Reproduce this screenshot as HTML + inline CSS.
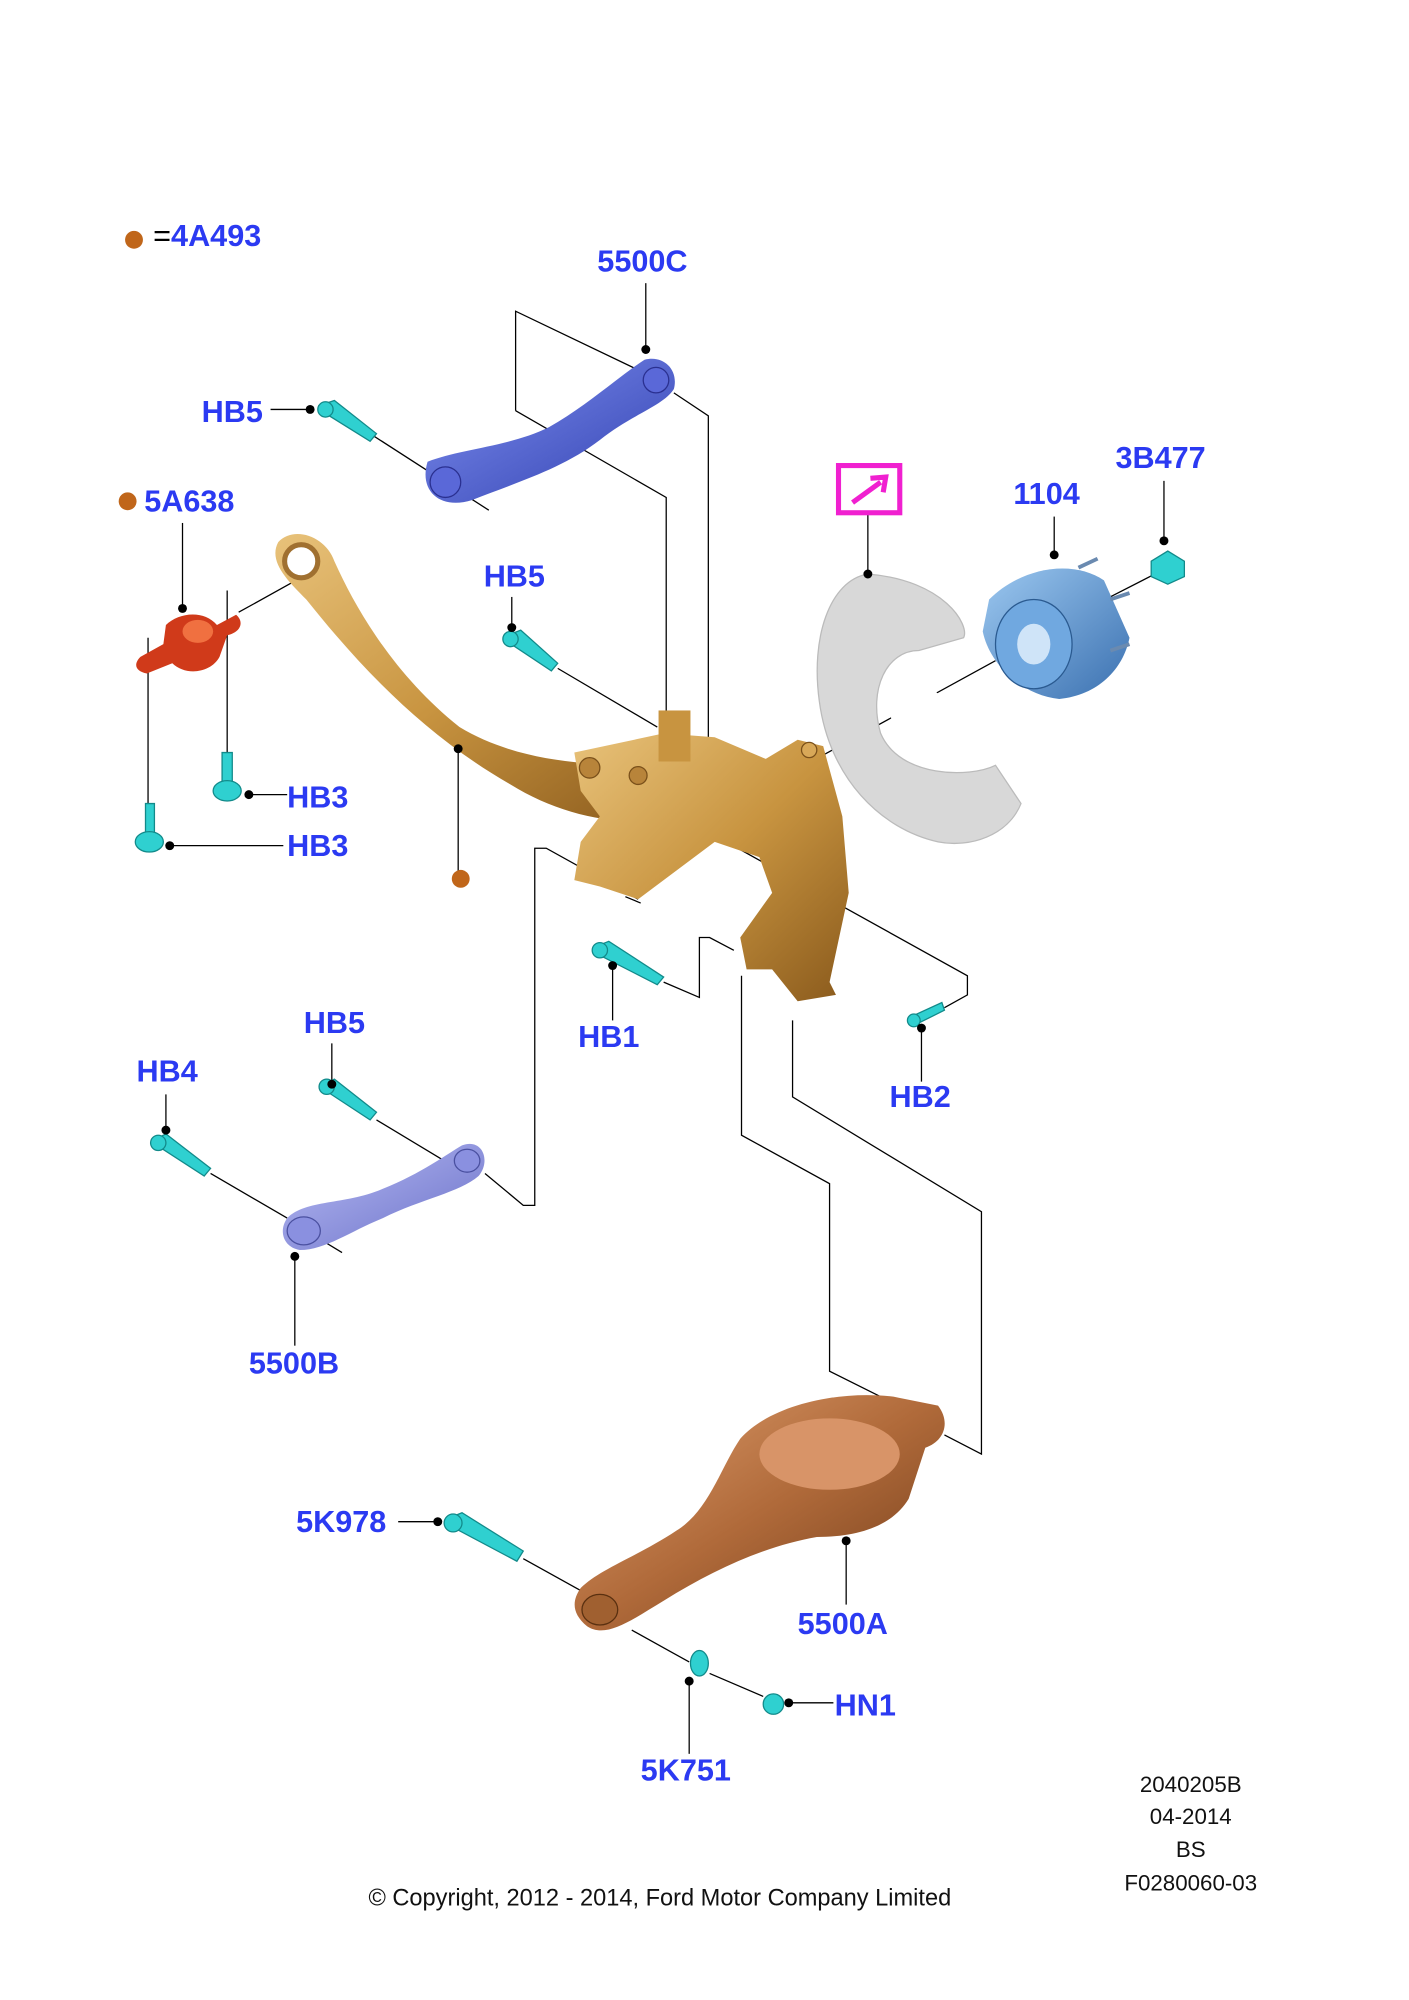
<!DOCTYPE html>
<html><head><meta charset="utf-8"><style>
html,body{margin:0;padding:0;background:#fff}
svg{display:block}
.l{font-family:"Liberation Sans",sans-serif;font-weight:bold;font-size:24px;fill:#2b3af2}
.t{font-family:"Liberation Sans",sans-serif;font-size:17.5px;fill:#111}
.ln{stroke:#000;stroke-width:1;fill:none}
</style></head><body>
<svg width="1409" height="2000" viewBox="0 0 1104 1568" preserveAspectRatio="none" xmlns="http://www.w3.org/2000/svg">
<defs>
<linearGradient id="gold" x1="0" y1="0" x2="1" y2="1"><stop offset="0" stop-color="#e8c27a"/><stop offset=".5" stop-color="#c89440"/><stop offset="1" stop-color="#8a5a1c"/></linearGradient>
<linearGradient id="bronze" x1="0" y1="0" x2="1" y2="1"><stop offset="0" stop-color="#e0a070"/><stop offset=".5" stop-color="#b06a3a"/><stop offset="1" stop-color="#6e3a18"/></linearGradient>
<linearGradient id="blue" x1="0" y1="0" x2="1" y2="1"><stop offset="0" stop-color="#8090f0"/><stop offset="1" stop-color="#3040b0"/></linearGradient>
<linearGradient id="lblue" x1="0" y1="0" x2="1" y2="1"><stop offset="0" stop-color="#b8bcf4"/><stop offset="1" stop-color="#6a70c8"/></linearGradient>
<linearGradient id="hub" x1="0" y1="0" x2="1" y2="1"><stop offset="0" stop-color="#9cc8f0"/><stop offset="1" stop-color="#3a70b0"/></linearGradient>
</defs>
<g class="ln">
<polyline points="404,322 404,244 500,290"/>
<polyline points="404,322 522,390 522,565"/>
<polyline points="528,308 555,326 555,580"/>
<line x1="290" y1="340" x2="383" y2="400"/>
<line x1="437" y1="524" x2="515" y2="570"/>
<line x1="187" y1="480" x2="232" y2="455"/>
<line x1="178" y1="463" x2="178" y2="590"/>
<line x1="116" y1="500" x2="116" y2="635"/>
<polyline points="380,920 410,945 419,945 419,665 428,665 500,705"/>
<polyline points="520,770 548,782 548,735 556,735 575,745"/>
<polyline points="581,765 581,890 650,928 650,1075 690,1095"/>
<polyline points="621,800 621,860 769,950 769,1140 740,1125"/>
<polyline points="560,655 758,765 758,780 740,790"/>
<line x1="645" y1="592" x2="780" y2="518"/>
<line x1="866" y1="470" x2="905" y2="450"/>
<line x1="165" y1="920" x2="225" y2="955"/>
<line x1="295" y1="878" x2="348" y2="910"/>
<line x1="240" y1="965" x2="268" y2="982"/>
<line x1="410" y1="1222" x2="455" y2="1247"/>
<line x1="495" y1="1278" x2="540" y2="1303"/>
<line x1="556" y1="1312" x2="598" y2="1330"/>
<line x1="490" y1="703" x2="502" y2="708"/>
</g>
<g class="ln">
<line x1="506" y1="222" x2="506" y2="274"/>
<line x1="212" y1="321" x2="243" y2="321"/>
<line x1="143" y1="410" x2="143" y2="477"/>
<line x1="401" y1="468" x2="401" y2="492"/>
<line x1="826" y1="405" x2="826" y2="435"/>
<line x1="912" y1="377" x2="912" y2="424"/>
<line x1="680" y1="402" x2="680" y2="450"/>
<line x1="195" y1="623" x2="225" y2="623"/>
<line x1="133" y1="663" x2="222" y2="663"/>
<line x1="359" y1="587" x2="359" y2="685"/>
<line x1="480" y1="757" x2="480" y2="800"/>
<line x1="722" y1="806" x2="722" y2="848"/>
<line x1="260" y1="818" x2="260" y2="850"/>
<line x1="130" y1="858" x2="130" y2="886"/>
<line x1="231" y1="985" x2="231" y2="1055"/>
<line x1="312" y1="1193" x2="343" y2="1193"/>
<line x1="663" y1="1208" x2="663" y2="1258"/>
<line x1="618" y1="1335" x2="653" y2="1335"/>
<line x1="540" y1="1318" x2="540" y2="1375"/>
</g>
<path d="M335,362 C360,352 400,350 430,335 C460,318 485,295 505,282 C520,278 532,290 528,305 C520,318 495,325 470,345 C440,368 405,378 370,392 C345,400 328,385 335,362Z" fill="url(#blue)"/>
<circle cx="349" cy="378" r="12" fill="#5a68d8" stroke="#2a3090"/>
<circle cx="514" cy="298" r="10" fill="#5a68d8" stroke="#2a3090"/>
<path d="M218,425 C230,412 255,420 262,440 C280,480 310,530 360,570 C410,600 470,600 520,600 L530,640 C490,650 440,640 400,615 C330,575 280,520 240,470 C225,455 210,440 218,425Z" fill="url(#gold)"/>
<circle cx="236" cy="440" r="13" fill="#fff" stroke="#a07030" stroke-width="4"/>
<path d="M450,590 L520,575 L560,578 L600,595 L625,580 L645,585 L660,640 L665,700 L650,770 L655,780 L625,785 L605,760 L585,760 L580,735 L605,700 L595,672 L560,660 L520,690 L500,705 L470,695 L450,690 L455,660 L470,640 L455,620Z" fill="url(#gold)"/>
<rect x="516" y="557" width="25" height="40" fill="#c89440"/>
<circle cx="462" cy="602" r="8" fill="#b8843a" stroke="#7a501a"/>
<circle cx="500" cy="608" r="7" fill="#b8843a" stroke="#7a501a"/>
<circle cx="634" cy="588" r="6" fill="#d8a858" stroke="#7a501a"/>
<path d="M110,515 L128,505 L130,490 C140,480 160,478 170,490 L185,482 C192,488 188,496 178,498 L172,515 C165,528 145,530 135,520 L115,528 C105,526 105,520 110,515Z" fill="#d03a1a"/>
<ellipse cx="155" cy="495" rx="12" ry="9" fill="#f07040"/>
<g fill="#2fd0d0" stroke="#128a8a" stroke-width="1">
<path d="M250,318 L262,314 L295,340 L290,346 L258,326 Z"/><circle cx="255" cy="321" r="6"/>
<path d="M398,498 L408,494 L437,520 L432,526 L402,506 Z"/><circle cx="400" cy="501" r="6"/>
<path d="M174,590 L182,590 L182,615 L174,615 Z"/><ellipse cx="178" cy="620" rx="11" ry="8"/>
<path d="M114,630 L121,630 L121,655 L114,655 Z"/><ellipse cx="117" cy="660" rx="11" ry="8"/>
<path d="M467,742 L477,738 L520,766 L515,772 L472,750 Z"/><circle cx="470" cy="745" r="6"/>
<path d="M714,797 L738,786 L740,792 L718,803 Z"/><circle cx="716" cy="800" r="5"/>
<path d="M254,850 L262,846 L295,872 L290,878 L258,857 Z"/><circle cx="256" cy="852" r="6"/>
<path d="M122,893 L130,889 L165,916 L160,922 L126,900 Z"/><circle cx="124" cy="896" r="6"/>
<path d="M352,1190 L362,1186 L410,1216 L405,1224 L356,1198 Z"/><circle cx="355" cy="1194" r="7"/>
<ellipse cx="548" cy="1304" rx="7" ry="10"/>
<circle cx="606" cy="1336" r="8"/>
<path d="M902,440 L915,432 L928,440 L928,452 L915,458 L902,452Z"/>
</g>
<path d="M680,450 C740,455 760,490 755,500 L720,510 C695,510 680,540 690,575 C705,610 760,610 780,600 L800,630 C790,655 760,665 735,660 C690,650 650,610 642,550 C635,500 650,455 680,450Z" fill="#d8d8d8" stroke="#bbb"/>
<circle cx="720" cy="560" r="22" fill="#fff"/>
<path d="M775,470 C800,445 840,438 865,455 L885,500 C880,525 860,545 830,548 C800,545 775,520 770,495Z" fill="url(#hub)"/>
<ellipse cx="810" cy="505" rx="30" ry="35" fill="#70a8e0" stroke="#2a5a90"/>
<ellipse cx="810" cy="505" rx="13" ry="16" fill="#cfe4f8"/>
<g stroke="#6a8ab0" stroke-width="3"><line x1="845" y1="445" x2="860" y2="438"/><line x1="870" y1="470" x2="885" y2="465"/><line x1="870" y1="510" x2="885" y2="505"/></g>
<path d="M225,955 C240,940 270,945 300,932 C330,920 350,905 362,898 C378,892 385,910 375,922 C360,935 330,940 300,955 C275,965 255,980 235,980 C222,978 218,965 225,955Z" fill="url(#lblue)"/>
<ellipse cx="238" cy="965" rx="13" ry="11" fill="#8a90e0" stroke="#4a50a0"/>
<ellipse cx="366" cy="910" rx="10" ry="9" fill="#8a90e0" stroke="#4a50a0"/>
<path d="M455,1245 C470,1230 500,1220 530,1200 C555,1185 565,1150 580,1128 C605,1100 660,1090 700,1095 L735,1102 C745,1115 740,1130 725,1135 L712,1175 C700,1195 675,1205 640,1205 C600,1212 560,1230 520,1255 C495,1270 475,1285 460,1275 C448,1265 448,1255 455,1245Z" fill="url(#bronze)"/>
<ellipse cx="650" cy="1140" rx="55" ry="28" fill="#d89468"/>
<ellipse cx="470" cy="1262" rx="14" ry="12" fill="#a06030" stroke="#5a3010"/>
<circle cx="105" cy="188" r="7" fill="#c0661a"/>
<circle cx="100" cy="393" r="7" fill="#c0661a"/>
<circle cx="361" cy="689" r="7" fill="#c0661a"/>
<g fill="#000">
<circle cx="506" cy="274" r="3.5"/><circle cx="243" cy="321" r="3.5"/><circle cx="143" cy="477" r="3.5"/>
<circle cx="401" cy="492" r="3.5"/><circle cx="826" cy="435" r="3.5"/><circle cx="912" cy="424" r="3.5"/>
<circle cx="680" cy="450" r="3.5"/><circle cx="195" cy="623" r="3.5"/><circle cx="133" cy="663" r="3.5"/>
<circle cx="359" cy="587" r="3.5"/><circle cx="480" cy="757" r="3.5"/><circle cx="722" cy="806" r="3.5"/>
<circle cx="260" cy="850" r="3.5"/><circle cx="130" cy="886" r="3.5"/><circle cx="231" cy="985" r="3.5"/>
<circle cx="343" cy="1193" r="3.5"/><circle cx="663" cy="1208" r="3.5"/><circle cx="618" cy="1335" r="3.5"/>
<circle cx="540" cy="1318" r="3.5"/>
</g>
<rect x="657" y="365" width="48" height="37" fill="none" stroke="#f020d0" stroke-width="4"/>
<path d="M668,394 L690,378 M682,375 L694,374 L692,386" stroke="#f020d0" stroke-width="4" fill="none"/>
<text class="l" x="120" y="193"><tspan style="font-weight:normal;fill:#000">=</tspan>4A493</text>
<text class="l" x="468" y="213">5500C</text>
<text class="l" x="158" y="331">HB5</text>
<text class="l" x="113" y="401">5A638</text>
<text class="l" x="379" y="460">HB5</text>
<text class="l" x="794" y="395">1104</text>
<text class="l" x="874" y="367">3B477</text>
<text class="l" x="225" y="633">HB3</text>
<text class="l" x="225" y="671">HB3</text>
<text class="l" x="453" y="821">HB1</text>
<text class="l" x="697" y="868">HB2</text>
<text class="l" x="238" y="810">HB5</text>
<text class="l" x="107" y="848">HB4</text>
<text class="l" x="195" y="1077">5500B</text>
<text class="l" x="232" y="1201">5K978</text>
<text class="l" x="625" y="1281">5500A</text>
<text class="l" x="654" y="1345">HN1</text>
<text class="l" x="502" y="1396">5K751</text>
<g class="t" text-anchor="middle">
<text x="933" y="1405">2040205B</text>
<text x="933" y="1430">04-2014</text>
<text x="933" y="1456">BS</text>
<text x="933" y="1482">F0280060-03</text>
<text x="517" y="1494" style="font-size:18.5px">© Copyright, 2012 - 2014, Ford Motor Company Limited</text>
</g>
</svg>
</body></html>
